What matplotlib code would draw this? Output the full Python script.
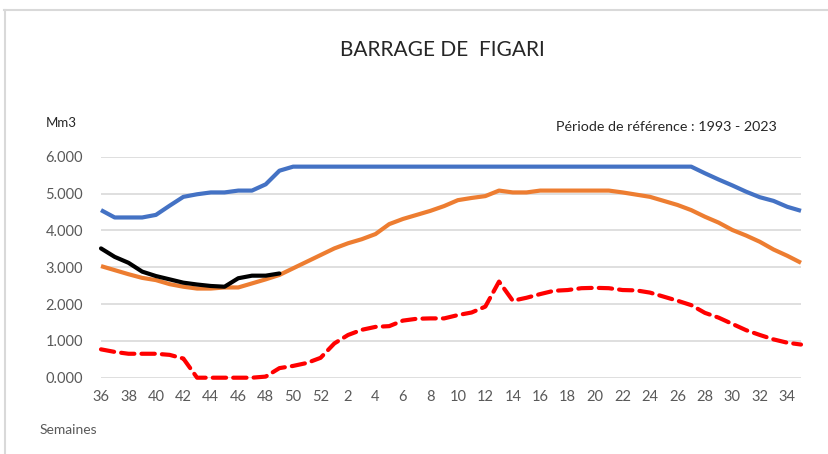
import matplotlib
matplotlib.use("Agg")
import matplotlib.pyplot as plt
from matplotlib.lines import Line2D

weeks = list(range(36, 53)) + list(range(1, 36))

maxi = [4.55, 4.35, 4.35, 4.35, 4.42, 4.67, 4.91, 4.98, 5.03, 5.03, 5.08, 5.08, 5.25, 5.62,
        5.73, 5.73, 5.73, 5.73, 5.73, 5.73, 5.73, 5.73, 5.73, 5.73, 5.73, 5.73, 5.73, 5.73,
        5.73, 5.73, 5.73, 5.73, 5.73, 5.73, 5.73, 5.73, 5.73, 5.73, 5.73, 5.73, 5.73, 5.73,
        5.73, 5.73, 5.55, 5.38, 5.22, 5.05, 4.90, 4.80, 4.64, 4.53]

moyenne = [3.03, 2.92, 2.81, 2.71, 2.65, 2.54, 2.47, 2.42, 2.42, 2.45, 2.45, 2.56, 2.67, 2.79,
           2.97, 3.15, 3.33, 3.51, 3.65, 3.76, 3.90, 4.17, 4.31, 4.42, 4.53, 4.66, 4.82, 4.88,
           4.93, 5.08, 5.03, 5.03, 5.08, 5.08, 5.08, 5.08, 5.08, 5.08, 5.03, 4.97, 4.91, 4.80,
           4.69, 4.55, 4.37, 4.21, 4.01, 3.86, 3.69, 3.48, 3.31, 3.12]

mini = [0.77, 0.70, 0.65, 0.65, 0.65, 0.62, 0.52, 0.0, 0.0, 0.0, 0.0, 0.0, 0.03, 0.26,
        0.32, 0.40, 0.54, 0.93, 1.16, 1.30, 1.38, 1.40, 1.55, 1.60, 1.61, 1.61, 1.70, 1.77,
        1.93, 2.61, 2.09, 2.17, 2.27, 2.36, 2.38, 2.43, 2.44, 2.43, 2.38, 2.37, 2.31, 2.20,
        2.09, 1.97, 1.76, 1.63, 1.46, 1.29, 1.16, 1.04, 0.95, 0.90]

actuel = [3.51, 3.28, 3.12, 2.88, 2.76, 2.67, 2.58, 2.53, 2.49, 2.47, 2.70, 2.77, 2.77, 2.83]

yticks = [0, 1, 2, 3, 4, 5, 6]

font = ["Lato", "DejaVu Sans"]
plt.rcParams['font.family'] = font

fig = plt.figure(figsize=(8.29, 4.54), dpi=100)
ax = fig.add_axes([101/829, 1 - 377.7/454, 700/829, 221/454])

x = list(range(len(weeks)))
ax.plot(x, maxi, color="#4472C4", lw=3.0, solid_capstyle="butt", clip_on=False, zorder=3)
ax.plot(x, moyenne, color="#ED7D31", lw=3.0, solid_capstyle="butt", clip_on=False, zorder=3)
ax.plot(x, mini, color="#FF0000", lw=3.0, linestyle=(0, (3.2, 1.7)), dash_capstyle="round", clip_on=False, zorder=3)
ax.plot(list(range(len(actuel))), actuel, color="#000000", lw=3.0, solid_capstyle="round", clip_on=False, zorder=4)

ax.set_xlim(0, len(weeks) - 1)
ax.set_ylim(0, 6)
ax.set_yticks(yticks)
ax.set_yticklabels([f"{v:.3f}" for v in yticks])
ax.set_xticks(x[::2])
ax.set_xticklabels([str(w) for w in weeks[::2]])
ax.grid(axis="y", color="#D9D9D9", lw=1.2)
ax.set_axisbelow(True)
for s in ax.spines.values():
    s.set_visible(False)
ax.tick_params(length=0, colors="#595959", labelsize=10.5)
ax.tick_params(axis="y", pad=13)
ax.tick_params(axis="x", pad=9)

fig.text(442/829, 1 - 50/454, "BARRAGE DE  FIGARI", ha="center", va="center", fontsize=15, color="#262626")
fig.text(46/829, 1 - 123/454, "Mm3", ha="left", va="center", fontsize=9.5, color="#262626")
fig.text(777/829, 1 - 127/454, "Période de référence : 1993 - 2023", ha="right", va="center", fontsize=10.3, color="#262626")
fig.text(40/829, 1 - 430/454, "Semaines", ha="left", va="center", fontsize=10, color="#595959")

fig.add_artist(Line2D([4/829, 1], [1 - 9.5/454, 1 - 9.5/454], transform=fig.transFigure, color="#D9D9D9", lw=1.5))
fig.add_artist(Line2D([5/829, 5/829], [0, 1 - 9.5/454], transform=fig.transFigure, color="#D9D9D9", lw=1.5))

fig.savefig("out.png", dpi=100)
